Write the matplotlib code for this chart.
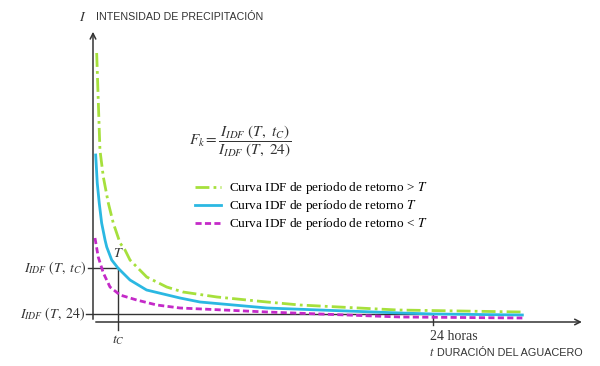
import matplotlib.pyplot as plt

plt.rcParams['mathtext.fontset'] = 'stix'

# curves (t in hours, intensity in arbitrary units)
t_high = [0.26, 0.37, 0.49, 0.73, 1.08, 1.43, 1.91, 2.26, 2.61, 3.79, 5.2, 6.35,
          8.75, 12.28, 14.6, 21.5, 30.3]
i_high = [269, 222, 172, 145, 119, 99, 79, 72, 62, 45, 35, 30, 25, 20, 17, 12, 10]

t_mid = [0.19, 0.3, 0.44, 0.61, 0.85, 0.97, 1.32, 1.76, 2.61, 3.78, 6.14, 7.55,
         12.28, 16.0, 21.7, 24.0, 30.3]
i_mid = [167, 139, 119, 99, 82, 75, 62, 54, 42, 32, 24, 20, 14, 12, 9, 8, 7]

t_low = [0.14, 0.37, 0.73, 1.2, 1.91, 3.08, 4.5, 6.14, 12.28, 16.0, 21.7, 30.3]
i_low = [84, 65, 49, 35, 27, 22, 17, 14, 10, 8, 5, 4]

t_c = 1.76
i_tc = 54
i_24 = 8
t_24 = 24

labels = ['Curva IDF de periodo de retorno > $T$',
          'Curva IDF de período de retorno $T$',
          'Curva IDF de período de retorno < $T$']

fig = plt.figure(figsize=(6, 3.66), dpi=100)
ax = fig.add_axes([0, 0, 1, 1])
ax.set_xlim(-6.563, 35.78)
ax.set_ylim(-44, 322)
ax.axis('off')

axis_col = '#333333'
# axes with arrows
ax.annotate('', xy=(0, 293), xytext=(0, 0),
            arrowprops=dict(arrowstyle='->', color=axis_col, lw=1.1))
ax.annotate('', xy=(34.7, 0), xytext=(0, 0),
            arrowprops=dict(arrowstyle='->', color=axis_col, lw=1.1))

# reference lines
ax.plot([-0.35, t_c], [i_tc, i_tc], color=axis_col, lw=1)
ax.plot([t_c, t_c], [i_tc, -8], color=axis_col, lw=1)
ax.plot([-0.5, t_24], [i_24, i_24], color=axis_col, lw=1)
ax.plot([t_24, t_24], [i_24, -3], color=axis_col, lw=1)

l1, = ax.plot(t_high, i_high, color='#a6e03c', lw=2, ls=(0, (5, 1.5, 1, 1.5)))
l2, = ax.plot(t_mid, i_mid, color='#2bb8e2', lw=2)
l3, = ax.plot(t_low, i_low, color='#c42ac8', lw=2, ls=(0, (2.2, 1.2)))

ax.legend([l1, l2, l3], labels, loc='upper left', bbox_to_anchor=(0.305, 0.54),
          frameon=False, handlelength=2.0, handletextpad=0.6, labelspacing=0.15,
          prop={'family': 'Liberation Serif', 'size': 9.5})

# texts
ax.text(-0.7, 305, '$I$', fontsize=10, ha='center', va='center', color='#333333')
ax.text(0.2, 305, 'INTENSIDAD DE PRECIPITACIÓN', fontsize=7.7, family='Liberation Sans',
        ha='left', va='center', color='#333333')
ax.text(6.8, 180, r'$F_k = \dfrac{I_{IDF}\ (T,\ t_C)}{I_{IDF}\ (T,\ 24)}$', fontsize=11,
        ha='left', va='center', color='#333333')
ax.text(-0.45, i_tc, r'$I_{IDF}\ (T,\ t_C)$', fontsize=10, ha='right', va='center', color='#333333')
ax.text(-0.5, i_24, r'$I_{IDF}\ (T,\ 24)$', fontsize=10, ha='right', va='center', color='#333333')
ax.text(t_c, -18, '$t_C$', fontsize=10, ha='center', va='center', color='#333333')
ax.text(t_c, 69, '$T$', fontsize=10, ha='center', va='center', color='#333333')
ax.text(23.8, -15, '24 horas', fontsize=10, family='Liberation Serif', ha='left',
        va='center', color='#333333')
ax.text(23.7, -31, '$t$', fontsize=9, ha='left', va='center', color='#333333')
ax.text(24.3, -31, 'DURACIÓN DEL AGUACERO', fontsize=7.8, family='Liberation Sans',
        ha='left', va='center', color='#333333')

fig.savefig('out.png', dpi=100)
